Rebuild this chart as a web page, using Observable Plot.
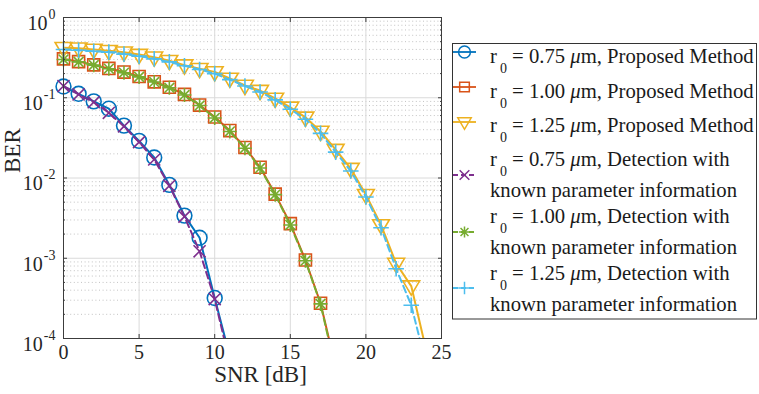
<!DOCTYPE html>
<html><head><meta charset="utf-8">
<script src="https://cdn.jsdelivr.net/npm/d3@7"></script>
<script src="https://cdn.jsdelivr.net/npm/@observablehq/plot@0.6"></script>
<style>
body{margin:0;background:#fff;}
#wrap{position:relative;width:759px;height:394px;overflow:hidden;}
#wrap svg{position:absolute;left:0;top:0;}
</style></head><body><div id="wrap"></div>
<script>
// ---------- data ----------
const snr075 = [0,1,2,3,4,5,6,7,8,9,10,11];
const berProposed075 = [0.138,0.112,0.090,0.073,0.045,0.029,0.018,0.0082,0.0034,0.0018,0.00032,0.00006];
const berKnown075    = [0.140,0.110,0.088,0.065,0.044,0.028,0.017,0.0080,0.0033,0.00122,0.00031,0.00005];

const snr100 = [0,1,2,3,4,5,6,7,8,9,10,11,12,13,14,15,16,17,18];
const berProposed100 = [0.305,0.282,0.257,0.232,0.209,0.184,0.158,0.135,0.110,0.081,0.0575,0.039,0.024,0.0136,0.0063,0.0027,0.00095,0.000275,0.000044];
const berKnown100    = [0.300,0.280,0.255,0.230,0.205,0.182,0.157,0.133,0.108,0.080,0.056,0.038,0.0235,0.0133,0.0062,0.0026,0.00093,0.00027,0.00004];

const snr125 = [0,1,2,3,4,5,6,7,8,9,10,11,12,13,14,15,16,17,18,19,20,21,22,23,24];
const berProposed125 = [0.42,0.415,0.40,0.385,0.37,0.345,0.32,0.29,0.255,0.23,0.21,0.174,0.142,0.123,0.098,0.076,0.057,0.038,0.0226,0.0131,0.0062,0.0026,0.00086,0.00045,0.00007];
const berKnown125    = [0.40,0.39,0.38,0.37,0.35,0.33,0.305,0.28,0.25,0.225,0.20,0.168,0.14,0.118,0.094,0.072,0.054,0.036,0.021,0.0122,0.0058,0.0024,0.00074,0.00026,0.000046];

const xTicks = [0,5,10,15,20,25];
const yExponents = [0,-1,-2,-3,-4];
const legendR0 = ["0.75","1.00","1.25","0.75","1.00","1.25"];
const legendMethod = ["Proposed Method","Proposed Method","Proposed Method","Detection with","Detection with","Detection with"];
const legendSecondLine = ["","","","known parameter information","known parameter information","known parameter information"];

// ---------- styles ----------
const serif = "'Liberation Serif','Times New Roman',Times,serif";
const triDown = {draw(ctx, size){const r=Math.sqrt(size/Math.PI);ctx.moveTo(-r,-0.62*r);ctx.lineTo(r,-0.62*r);ctx.lineTo(0,1.08*r);ctx.closePath();}};
const star8 = {draw(ctx, size){const r=Math.sqrt(size/Math.PI);const u=r*0.7071;
  ctx.moveTo(-r,0);ctx.lineTo(r,0);ctx.moveTo(0,-r);ctx.lineTo(0,r);
  ctx.moveTo(-u,-u);ctx.lineTo(u,u);ctx.moveTo(-u,u);ctx.lineTo(u,-u);}};
const plusS = {draw(ctx, size){const r=Math.sqrt(size/Math.PI);ctx.moveTo(-r,0);ctx.lineTo(r,0);ctx.moveTo(0,-r);ctx.lineTo(0,r);}};
const timesS = {draw(ctx, size){const r=Math.sqrt(size/Math.PI)*0.72;ctx.moveTo(-r,-r);ctx.lineTo(r,r);ctx.moveTo(-r,r);ctx.lineTo(r,-r);}};

const series = [
  {key:"p075", snr:snr075, ber:berProposed075, color:"#0072BD", dash:null,  symbol:d3.symbolCircle, r:7.4},
  {key:"p100", snr:snr100, ber:berProposed100, color:"#D95319", dash:null,  symbol:d3.symbolSquare, r:6.8},
  {key:"p125", snr:snr125, ber:berProposed125, color:"#EDB120", dash:null,  symbol:triDown,         r:8.4},
  {key:"k075", snr:snr075, ber:berKnown075,    color:"#7E2F8E", dash:"7,4", symbol:timesS,          r:8.4},
  {key:"k100", snr:snr100, ber:berKnown100,    color:"#77AC30", dash:"7,4", symbol:star8,           r:7},
  {key:"k125", snr:snr125, ber:berKnown125,    color:"#4DBEEE", dash:"7,4", symbol:plusS,           r:7.8}
];
const rows = series.flatMap(s => s.snr.map((x,i) => ({key:s.key, snr:x, ber:s.ber[i]})));

const minorY = [];
for (let e=-4; e<0; e++) for (let k=2; k<10; k++) minorY.push(k*Math.pow(10,e));
const majorY = yExponents.map(e => Math.pow(10,e));

// measure exponent widths for right-aligned tick labels
const cv = document.createElement("canvas").getContext("2d");
cv.font = "14px " + serif;
const expText = e => (e < 0 ? "-" + (-e) : String(e));

const marks = [
  Plot.ruleY(minorY, {y:d=>d, stroke:"#bcbcbc", strokeDasharray:"1,2.6", strokeWidth:0.9}),
  Plot.ruleY(majorY.filter(v=>v<1 && v>1e-4), {y:d=>d, stroke:"#dadada", strokeWidth:1}),
  Plot.ruleX(xTicks.filter(v=>v>0 && v<25), {x:d=>d, stroke:"#dadada", strokeWidth:1})
];
for (const s of series) {
  const data = rows.filter(d => d.key === s.key);
  marks.push(Plot.line(data, {x:"snr", y:"ber", stroke:s.color, strokeWidth:2, strokeDasharray:s.dash, clip:true}));
  marks.push(Plot.dot(data.filter(d => d.ber >= 1e-4), {x:"snr", y:"ber", symbol:s.symbol, r:s.r, stroke:s.color, fill:"none", strokeWidth:1.6}));
}
marks.push(
  Plot.frame({stroke:"#3c3c3c", strokeWidth:1}),
  Plot.axisX({anchor:"bottom", ticks:xTicks, tickSize:-4, tickFormat:()=>"", label:null, stroke:"#3c3c3c"}),
  Plot.axisX({anchor:"top", ticks:xTicks, tickSize:-4, tickFormat:()=>"", label:null, stroke:"#3c3c3c"}),
  Plot.axisY({anchor:"left", ticks:majorY, tickSize:-4, tickFormat:()=>"", label:null, stroke:"#3c3c3c"}),
  Plot.axisY({anchor:"right", ticks:majorY, tickSize:-4, tickFormat:()=>"", label:null, stroke:"#3c3c3c"}),
  Plot.axisY({anchor:"left", ticks:minorY, tickSize:-2, tickFormat:()=>"", label:null, stroke:"#3c3c3c"}),
  Plot.axisY({anchor:"right", ticks:minorY, tickSize:-2, tickFormat:()=>"", label:null, stroke:"#3c3c3c"}),
  Plot.text(xTicks, {x:d=>d, frameAnchor:"bottom", dy:20, text:d=>String(d), fontSize:20, fontFamily:serif, fill:"#262626"}),
  Plot.text(["SNR [dB]"], {text:d=>d, frameAnchor:"bottom", dy:43, dx:8, fontSize:23, fontFamily:serif, fill:"#262626"}),
  Plot.text(["BER"], {text:d=>d, frameAnchor:"left", rotate:-90, dx:-51, dy:-5, fontSize:23, fontFamily:serif, fill:"#262626"})
);
for (const e of yExponents) {
  const w = cv.measureText(expText(e)).width;
  marks.push(Plot.text([Math.pow(10,e)], {y:d=>d, frameAnchor:"left", text:()=>"10", textAnchor:"end", dx:-(9+w), dy:6, fontSize:20, fontFamily:serif, fill:"#262626"}));
  marks.push(Plot.text([Math.pow(10,e)], {y:d=>d, frameAnchor:"left", text:()=>expText(e), textAnchor:"end", dx:-8, dy:-3, fontSize:14, fontFamily:serif, fill:"#262626"}));
}

const chart = Plot.plot({
  width:759, height:394,
  marginLeft:63, marginRight:318, marginTop:17, marginBottom:56,
  style:{background:"#fff", fontFamily:serif},
  x:{domain:[0,25], label:null},
  y:{type:"log", domain:[1e-4,1], label:null},
  marks
});
document.getElementById("wrap").appendChild(chart);

// ---------- legend box ----------
const lg = d3.select("#wrap").append("svg").attr("width",759).attr("height",394);
lg.append("rect").attr("x",452.5).attr("y",43.5).attr("width",304).attr("height",275.5)
  .attr("fill","#fff").attr("stroke","#333").attr("stroke-width",1);
const baselines = [[63],[98],[132],[166,197],[223,254],[280,311]];
const symbolY = [52,87,122,175,232,288];
series.forEach((s,i) => {
  const y = symbolY[i];
  lg.append("line").attr("x1",453).attr("x2",476).attr("y1",y).attr("y2",y)
    .attr("stroke",s.color).attr("stroke-width",1.8).attr("stroke-dasharray",s.dash ? "5,3" : null);
  lg.append("path").attr("d", d3.symbol(s.symbol, Math.PI*(s.r*0.8)*(s.r*0.8))())
    .attr("transform",`translate(464.5,${y})`).attr("fill","none").attr("stroke",s.color).attr("stroke-width",1.5);
  const b = baselines[i];
  const t = lg.append("text").attr("x",490).attr("y",b[0]).attr("font-family",serif).attr("font-size",20.7).attr("fill","#1a1a1a");
  t.append("tspan").text("r");
  t.append("tspan").attr("dx",3).attr("dy",10).attr("font-size",14).text("0");
  t.append("tspan").attr("dy",-10).text("\u00a0= " + legendR0[i] + " ");
  t.append("tspan").attr("font-style","italic").text("\u03bc");
  t.append("tspan").text("m, " + legendMethod[i]);
  if (legendSecondLine[i]) {
    lg.append("text").attr("x",490).attr("y",b[1]).attr("font-family",serif).attr("font-size",20.7).attr("fill","#1a1a1a").text(legendSecondLine[i]);
  }
});
</script></body></html>
